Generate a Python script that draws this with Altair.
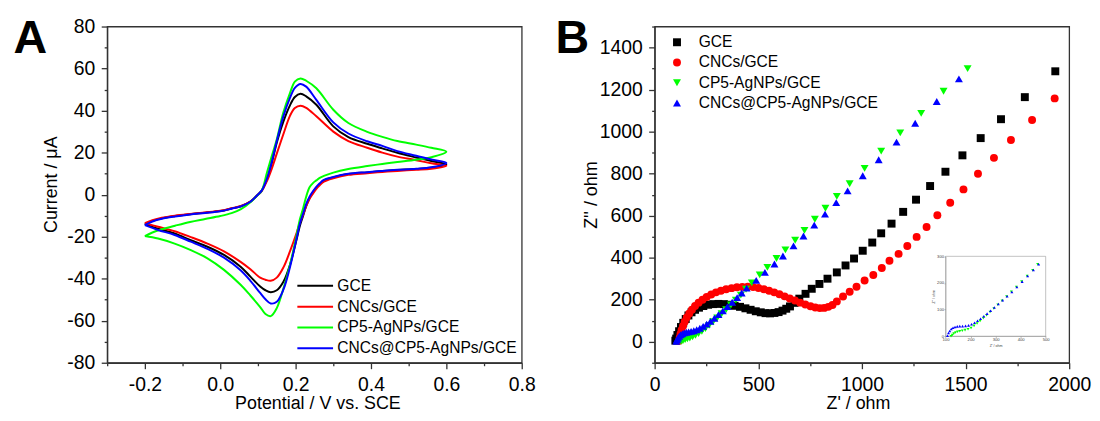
import altair as alt
import pandas as pd

FONT = "Liberation Sans"
SERIES = ["GCE", "CNCs/GCE", "CP5-AgNPs/GCE", "CNCs@CP5-AgNPs/GCE"]
COLORS = ["#000000", "#ff0000", "#00ff00", "#0000ff"]
SHAPES = ["square", "circle", "triangle-down", "triangle-up"]

# ---------------- Panel A : cyclic voltammograms ----------------
V_FWD = [-0.20, -0.18, -0.155, -0.12, -0.08, -0.04, 0.0, 0.03, 0.055, 0.08, 0.097, 0.11, 0.124,
         0.137, 0.15, 0.167, 0.185, 0.198, 0.213, 0.228, 0.255, 0.30, 0.34, 0.39, 0.43,
         0.47, 0.52, 0.56, 0.60]
V_REV = [0.56, 0.52, 0.47, 0.43, 0.39, 0.34, 0.30, 0.275, 0.264, 0.255, 0.246, 0.237,
         0.228, 0.22, 0.211, 0.203, 0.185, 0.168, 0.15, 0.134, 0.12, 0.106, 0.08, 0.054,
         0.01, -0.034, -0.078, -0.121, -0.165, -0.20]

GCE_FWD = [-14.0, -12.5, -11.3, -10.2, -9.3, -8.6, -7.8, -6.6, -5.5, -3.3, -0.5, 1.9, 7.4,
           15.3, 24.7, 34.5, 42.5, 46.5, 48.0, 46.8, 42.8, 32.5, 27.4, 24.2, 22.0,
           19.9, 17.7, 16.0, 14.4]
GCE_REV = [12.8, 12.2, 11.7, 11.2, 10.6, 9.8, 8.2, 6.8, 5.0, 3.3, 1.1, -1.8,
           -5.5, -10.0, -15.0, -21.0, -33.4, -41.3, -45.5, -46.4, -45.5, -43.7, -39.0, -34.3,
           -28.7, -24.8, -21.7, -18.5, -16.2, -14.0]

CNC_FWD = [-13.6, -12.2, -11.0, -10.0, -9.2, -8.5, -7.7, -6.5, -5.4, -3.3, -0.6, 1.7, 6.5,
           12.5, 19.5, 28.5, 37.5, 41.2, 42.3, 41.3, 37.3, 30.0, 25.5, 22.3, 20.0,
           18.1, 16.4, 14.9, 13.7]
CNC_REV = [12.3, 11.8, 11.3, 10.8, 10.2, 9.4, 7.8, 6.2, 4.5, 2.8, 0.5, -2.0,
           -5.5, -9.5, -13.5, -18.0, -27.0, -34.5, -39.5, -41.0, -40.5, -39.5, -35.5, -32.0,
           -27.0, -23.3, -20.2, -17.4, -15.3, -13.6]

CP5_FWD = [-19.7, -18.0, -16.5, -14.8, -13.0, -11.6, -10.2, -8.8, -6.9, -3.6, -0.6, 1.9, 10.5,
           18.5, 26.2, 38.8, 48.3, 53.8, 55.3, 54.2, 50.6, 40.4, 34.1, 29.9, 27.5,
           25.5, 23.8, 22.3, 20.4]
CP5_REV = [17.8, 16.6, 15.5, 14.6, 13.6, 12.2, 10.5, 8.9, 8.0, 6.8, 5.5, 3.5,
           -1.0, -6.5, -12.0, -19.0, -33.5, -44.5, -54.0, -57.8, -56.8, -53.5, -48.0, -42.9,
           -35.8, -30.3, -26.4, -23.3, -20.9, -19.7]

MIX_FWD = [-14.5, -12.8, -11.5, -10.4, -9.4, -8.7, -7.9, -6.7, -5.6, -3.4, -0.5, 1.9, 7.6,
           15.8, 25.5, 37.0, 46.0, 50.8, 52.7, 51.4, 45.1, 34.4, 29.1, 25.4, 23.2,
           20.7, 18.5, 16.7, 15.1]
MIX_REV = [13.0, 12.3, 11.8, 11.3, 10.7, 9.9, 8.4, 7.0, 5.4, 3.7, 1.6, -1.0,
           -4.5, -9.0, -14.0, -20.5, -34.5, -45.0, -51.0, -51.8, -49.8, -46.8, -41.0, -36.0,
           -30.0, -25.8, -22.4, -19.2, -16.8, -14.5]

# ---------------- Panel B : Nyquist plots ----------------
GCE_ZRE = [100, 104, 110, 118, 127, 138, 150, 163, 178, 195, 214, 235, 258, 283, 308, 334,
           360, 386, 412, 438, 463, 488, 512, 535, 557, 578, 598, 617, 635, 653, 675, 698,
           728, 758, 795, 834, 879, 921, 962, 1004, 1050, 1093, 1143, 1199, 1261, 1329,
           1403, 1485, 1573, 1671, 1786, 1933]
GCE_ZIM = [5, 15, 32, 50, 70, 90, 108, 125, 140, 152, 162, 170, 176, 179, 180, 179,
           176, 171, 166, 159, 152, 145, 140, 136, 135, 137, 141, 148, 157, 168, 185, 205,
           228, 252, 275, 300, 330, 363, 396, 433, 472, 516, 562, 618, 676, 741,
           809, 887, 969, 1059, 1164, 1287]

CNC_ZRE = [118, 121, 125, 130, 137, 145, 155, 167, 180, 195, 212, 231, 251, 273, 296, 320,
           345, 371, 397, 423, 449, 475, 501, 527, 552, 577, 602, 627, 652, 677, 702, 727,
           752, 775, 797, 818, 838, 858, 879, 909, 941, 974, 1013, 1055, 1096, 1133, 1177,
           1219, 1264, 1312, 1364, 1426, 1490, 1560, 1637, 1719, 1821, 1930]
CNC_ZIM = [5, 20, 38, 56, 75, 95, 115, 134, 152, 170, 186, 200, 213, 225, 235, 243,
           250, 255, 259, 261, 262, 260, 256, 250, 243, 235, 226, 216, 206, 196, 186, 177,
           169, 163, 160, 161, 166, 175, 192, 215, 238, 262, 291, 318, 351, 385, 418,
           456, 499, 546, 602, 661, 725, 799, 875, 960, 1055, 1158]

CP5_ZRE = [128, 137, 147, 158, 170, 183, 197, 212, 228, 245, 263, 282, 302, 323, 345, 368,
           392, 416, 441, 469, 507, 544, 588, 631, 678, 723, 773, 824, 879, 941, 1013,
           1093, 1185, 1286, 1394, 1510]
CP5_ZIM = [2, 6, 10, 14, 18, 23, 30, 39, 50, 63, 78, 95, 113, 133, 153, 175,
           198, 222, 250, 280, 318, 354, 396, 437, 483, 530, 583, 635, 692, 752, 825,
           907, 994, 1087, 1192, 1300]

MIX_ZRE = [105, 108, 113, 119, 126, 134, 143, 153, 164, 176, 189, 203, 218, 234, 251, 269,
           288, 308, 329, 351, 374, 398, 420, 444, 490, 532, 578, 619, 670, 718, 770, 822,
           876, 931, 1004, 1081, 1167, 1257, 1361, 1468]
MIX_ZIM = [2, 10, 18, 26, 33, 38, 42, 45, 47, 49, 52, 57, 64, 73, 84, 97,
           112, 129, 147, 167, 188, 210, 232, 255, 292, 330, 370, 408, 456, 503, 555, 607,
           662, 718, 790, 866, 950, 1040, 1143, 1251]

# inset (zoom of the high-frequency region)
INS_CP5_ZRE = [122, 127, 133, 140, 148, 157, 167, 178, 190, 202, 214, 226, 238, 251, 264,
               278, 293, 309, 326, 344, 363, 383, 404, 426, 448, 468]
INS_CP5_ZIM = [0, 5, 10, 14, 17, 19, 21, 23, 26, 31, 39, 48, 57, 68, 79,
               91, 104, 118, 133, 149, 167, 185, 205, 226, 248, 270]
INS_MIX_ZRE = [108, 112, 117, 123, 130, 138, 147, 157, 168, 180, 192, 204, 216, 228, 240,
               253, 266, 280, 295, 311, 328, 346, 365, 385, 406, 428, 451, 472]
INS_MIX_ZIM = [2, 12, 20, 27, 32, 35, 37, 38, 38, 39, 41, 45, 51, 58, 66,
               75, 85, 96, 108, 121, 135, 150, 166, 185, 205, 226, 249, 270]

# tick positions
A_X_TICKS = [-0.3, -0.2, -0.1, 0.0, 0.1, 0.2, 0.3, 0.4, 0.5, 0.6, 0.7, 0.8]
A_Y_TICKS = [-80, -70, -60, -50, -40, -30, -20, -10, 0, 10, 20, 30, 40, 50, 60, 70, 80]
B_X_TICKS = [0, 250, 500, 750, 1000, 1250, 1500, 1750, 2000]
B_Y_TICKS = [-100, 0, 100, 200, 300, 400, 500, 600, 700, 800, 900, 1000, 1100, 1200, 1300, 1400, 1500]
INS_X_TICKS = [100, 200, 300, 400, 500]
INS_Y_TICKS = [0, 100, 200, 300]

# ---------------- tables ----------------
cv_rows = []
for name, fwd, rev in zip(SERIES, [GCE_FWD, CNC_FWD, CP5_FWD, MIX_FWD],
                          [GCE_REV, CNC_REV, CP5_REV, MIX_REV]):
    pts = list(zip(V_FWD, fwd)) + list(zip(V_REV, rev))
    for k, (v, i) in enumerate(pts):
        cv_rows.append({"series": name, "E": v, "I": i, "k": k})
cv_df = pd.DataFrame(cv_rows)

eis_rows = []
for name, xs, ys in zip(SERIES, [GCE_ZRE, CNC_ZRE, CP5_ZRE, MIX_ZRE],
                        [GCE_ZIM, CNC_ZIM, CP5_ZIM, MIX_ZIM]):
    for a, b in zip(xs, ys):
        eis_rows.append({"series": name, "Zre": a, "Zim": b})
eis_df = pd.DataFrame(eis_rows)

ins_rows = []
for name, xs, ys in [(SERIES[2], INS_CP5_ZRE, INS_CP5_ZIM), (SERIES[3], INS_MIX_ZRE, INS_MIX_ZIM)]:
    for a, b in zip(xs, ys):
        ins_rows.append({"series": name, "Zre": a, "Zim": b})
ins_df = pd.DataFrame(ins_rows)

W, H = 418, 339


def tsize(test):
    return {"condition": {"test": test, "value": 6}, "value": 3}


color_scale = alt.Scale(domain=SERIES, range=COLORS)

# ---------------- Panel A ----------------
leg_a = alt.Legend(title=None, orient="none", legendX=215.4, legendY=253.6,
                   symbolType="M-7,0H1", symbolSize=81, symbolStrokeWidth=2,
                   labelFontSize=15.7, labelOffset=1, rowPadding=4, padding=0,
                   labelFont=FONT, labelColor="black", labelLimit=0)

a_even = "abs(round(datum.value*10)) % 2 == 0"
cv_lines = alt.Chart(cv_df).mark_line(strokeWidth=2, interpolate="catmull-rom").encode(
    x=alt.X("E:Q", scale=alt.Scale(domain=[-0.3, 0.8], nice=False, zero=False),
            axis=alt.Axis(values=A_X_TICKS, title="Potential / V vs. SCE",
                          labelExpr=a_even + " ? (datum.value < -0.001 ? '-' : '') + format(abs(datum.value), '.1f') : ''",
                          tickSize=tsize(a_even), titleX=212, titleY=46.3,
                          titleBaseline="alphabetic")),
    y=alt.Y("I:Q", scale=alt.Scale(domain=[-80, 80], nice=False, zero=False),
            axis=alt.Axis(values=A_Y_TICKS, title="Current / μA",
                          labelExpr="datum.value % 20 == 0 ? (datum.value < 0 ? '-' : '') + abs(datum.value) : ''",
                          tickSize=tsize("datum.value % 20 == 0"), titleX=-51, titleY=159,
                          titleBaseline="alphabetic")),
    color=alt.Color("series:N", scale=color_scale, legend=leg_a),
    order=alt.Order("k:Q"),
)

letter_a = alt.Chart(pd.DataFrame({"t": ["A"]})).mark_text(
    fontSize=47, fontWeight="bold", align="left", baseline="alphabetic", font=FONT, color="black"
).encode(text="t:N", x=alt.value(-94.5), y=alt.value(27))

panel_a = alt.layer(cv_lines, letter_a).properties(width=W, height=H)

# ---------------- Panel B ----------------
leg_b = alt.Legend(title=None, orient="none", legendX=14.7, legendY=8,
                   symbolSize=64, labelFontSize=15.7, labelOffset=14, rowPadding=3.4,
                   padding=0, labelFont=FONT, labelColor="black", labelLimit=0)

eis_pts = alt.Chart(eis_df).mark_point(filled=True, size=64, opacity=1).encode(
    x=alt.X("Zre:Q", scale=alt.Scale(domain=[0, 2000], nice=False, zero=False),
            axis=alt.Axis(values=B_X_TICKS, title="Z' / ohm",
                          labelExpr="datum.value % 500 == 0 ? '' + datum.value : ''",
                          tickSize=tsize("datum.value % 500 == 0"), titleX=205, titleY=46.3,
                          titleBaseline="alphabetic")),
    y=alt.Y("Zim:Q", scale=alt.Scale(domain=[-100, 1500], nice=False, zero=False),
            axis=alt.Axis(values=B_Y_TICKS, title="Z'' / ohm",
                          labelExpr="datum.value % 200 == 0 ? '' + datum.value : ''",
                          tickSize=tsize("datum.value % 200 == 0"), titleX=-58.5, titleY=169.5,
                          titleBaseline="alphabetic")),
    color=alt.Color("series:N", scale=color_scale, legend=leg_b),
    shape=alt.Shape("series:N", scale=alt.Scale(domain=SERIES, range=SHAPES), legend=leg_b),
)

letter_b = alt.Chart(pd.DataFrame({"t": ["B"]})).mark_text(
    fontSize=47, fontWeight="bold", align="left", baseline="alphabetic", font=FONT, color="black"
).encode(text="t:N", x=alt.value(-100), y=alt.value(27))

ins_common = dict(grid=False, domainColor="#8a8a8a", tickColor="#8a8a8a", domainWidth=0.6,
                  tickWidth=0.6, tickSize=1.5, labelFontSize=4.2, titleFontSize=3.6,
                  labelPadding=0.5, titlePadding=1, labelColor="#444", titleColor="#444",
                  titleFontWeight="normal", labelExpr="'' + datum.value")
ins_x_scale = alt.Scale(domain=[100, 500], range=[293.3, 394.3], nice=False, zero=False)
ins_y_scale = alt.Scale(domain=[0, 300], range=[312.3, 231.7], nice=False, zero=False)
ins_x_axis = alt.Axis(orient="bottom", offset=-27, values=INS_X_TICKS, title="Z' / ohm", **ins_common)
ins_y_axis = alt.Axis(orient="left", offset=-293.3, values=INS_Y_TICKS, title="Z'' / ohm", **ins_common)

inset_pts = alt.Chart(ins_df).mark_point(filled=True, size=9, opacity=1).encode(
    x=alt.X("Zre:Q", scale=ins_x_scale, axis=ins_x_axis),
    y=alt.Y("Zim:Q", scale=ins_y_scale, axis=ins_y_axis),
    color=alt.Color("series:N", scale=color_scale, legend=None),
    shape=alt.Shape("series:N", scale=alt.Scale(domain=SERIES, range=SHAPES), legend=None),
)

inset_box = alt.Chart(pd.DataFrame({"Zre": [100], "Zre2": [500], "Zim": [0], "Zim2": [300]})).mark_rect(
    filled=False, stroke="#9a9a9a", strokeWidth=0.6
).encode(
    x=alt.X("Zre:Q", scale=ins_x_scale, axis=ins_x_axis), x2="Zre2:Q",
    y=alt.Y("Zim:Q", scale=ins_y_scale, axis=ins_y_axis), y2="Zim2:Q",
)

inset = alt.layer(inset_box, inset_pts)

panel_b = alt.layer(eis_pts, letter_b, inset).resolve_scale(
    x="independent", y="independent", color="independent", shape="independent"
).properties(width=W, height=H)

chart = alt.hconcat(panel_a, panel_b, spacing=18).properties(
    padding={"left": 4, "top": 5, "right": 0, "bottom": 0}
).configure(font=FONT).configure_view(
    stroke="#333333", strokeWidth=1.3
).configure_axis(
    grid=False, domainColor="#333333", domainWidth=1.3, tickColor="#333333", tickWidth=1.3,
    labelFontSize=19.5, labelColor="black", labelPadding=6.5, labelFlush=False,
    labelOverlap=False, titleFontSize=18, titleFontWeight="normal", titleColor="black",
    labelFont=FONT, titleFont=FONT
)

chart.save("out.html", embed_options={"renderer": "svg", "actions": False})
